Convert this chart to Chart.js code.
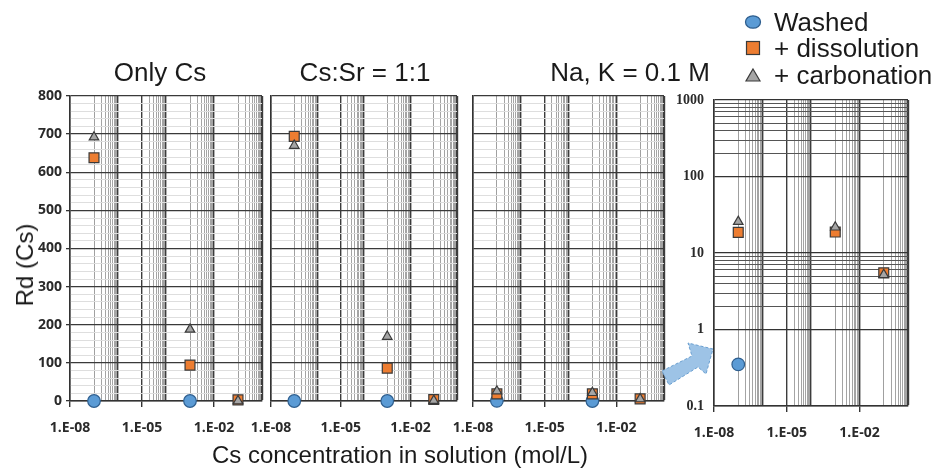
<!DOCTYPE html>
<html><head><meta charset="utf-8">
<script src="https://cdn.jsdelivr.net/npm/chart.js@4.4.0/dist/chart.umd.min.js"></script>
<style>
html,body{margin:0;padding:0;background:#fff;width:935px;height:472px;overflow:hidden;font-family:'Liberation Sans',Arial,sans-serif;color:#1a1a1a}
.box{position:absolute;top:0;height:445px}
.t{position:absolute;transform:translate(-50%,-50%);white-space:nowrap;line-height:1}
.leg{position:absolute;left:744px;display:flex;align-items:center;font-size:26px;line-height:1;transform:translateY(-50%)}
.leg svg{margin-right:12px}
</style></head><body>
<div class="box" style="left:0;width:277px"><canvas id="c1" width="277" height="445"></canvas></div>
<div class="box" style="left:226px;width:246px"><canvas id="c2" width="246" height="445"></canvas></div>
<div class="box" style="left:428px;width:251px"><canvas id="c3" width="251" height="445"></canvas></div>
<div class="box" style="left:660px;width:275px"><canvas id="c4" width="275" height="445"></canvas></div>
<div id="titles"></div>
<div id="legend"></div>
<div class="t" style="left:25px;top:265px;font-size:24px;transform:translate(-50%,-50%) rotate(-90deg)">Rd (Cs)</div>
<div class="t" style="left:400px;top:455px;font-size:24px">Cs concentration in solution (mol/L)</div>
<svg style="position:absolute;left:0;top:0;pointer-events:none" width="935" height="472">
  <polygon points="662,371 692,356 688,343 713,349 706,374 698,367 669,385" fill="#9DC3E6" stroke="#6A9FD0" stroke-width="1" stroke-dasharray="3,2"/>
</svg>
<script>
// ---------------- data ----------------
const concentrations = [1e-7, 1e-3, 1e-1];          // Cs concentration in solution (mol/L)
const seriesNames = ['Washed', '+ dissolution', '+ carbonation'];
const panelTitles = ['Only Cs', 'Cs:Sr = 1:1', 'Na, K = 0.1 M'];

const onlyCsWashed      = [0, 0, null];
const onlyCsDissolution = [638, 94, 3];
const onlyCsCarbonation = [692, 188, 0];

const csSrWashed      = [0, 0, null];
const csSrDissolution = [694, 86, 4];
const csSrCarbonation = [670, 169, 1];

const naKWashed      = [0.35, 0, null];
const naKDissolution = [18.6, 18.8, 5.5];
const naKCarbonation = [25.7, 21.7, 5.2];

const xTickValues = [1e-8, 1e-5, 1e-2];
const xTickLabels = ['1.E-08', '1.E-05', '1.E-02'];
const yLinTickValues = [0, 100, 200, 300, 400, 500, 600, 700, 800];
const yLinTickLabels = ['0', '100', '200', '300', '400', '500', '600', '700', '800'];
const yLogTickValues = [0.1, 1, 10, 100, 1000];
const yLogTickLabels = ['0.1', '1', '10', '100', '1000'];

// ---------------- styles ----------------
const markerStyles = [
  {pointStyle: 'circle',   radius: 6.3, bg: '#5B9BD5', border: '#2F5F8F', order: 2},
  {pointStyle: 'rect',     radius: 7,   bg: '#ED7D31', border: '#3a3a3a', order: 1},
  {pointStyle: 'triangle', radius: 5.5, bg: '#A5A5A5', border: '#3a3a3a', order: 0}
];
const X_MINOR_DECADES = [-7, -5, -3, -1];
const X_LIGHT_DECADES = [-7, -3, -1];
const Y_LOG_MINOR_DECADES = [0, 2];
const TICK_FONT = {family: "'Open Sans', sans-serif", size: 14, weight: '700'};
const TICK_COLOR = '#2a2a2a';

Chart.defaults.font.family = "'Open Sans', sans-serif";

function logTicks(minExp, maxExp, minorDecades) {
  const t = [];
  for (let e = minExp; e <= maxExp; e++) {
    t.push({value: Math.pow(10, e)});
    if (e < maxExp && minorDecades.includes(e)) {
      for (let m = 2; m <= 9; m++) t.push({value: m * Math.pow(10, e)});
    }
  }
  return t;
}
function decade(v) { const l = Math.log10(v); const e = Math.round(l); return {major: Math.abs(l - e) < 1e-6, e}; }
function findIdx(vals, v) { return vals.findIndex(a => Math.abs(a - v) / a < 1e-6); }

function xScale(xAxisHeight, pad) {
  return {
    type: 'logarithmic', min: 1e-8, max: 1,
    afterBuildTicks: ax => { ax.ticks = logTicks(-8, 0, X_MINOR_DECADES); },
    afterFit: ax => { ax.height = xAxisHeight; },
    ticks: {autoSkip: false, maxRotation: 0, minRotation: 0, padding: pad, color: TICK_COLOR, font: TICK_FONT,
      callback: v => { const i = findIdx(xTickValues, v); return i >= 0 ? xTickLabels[i] : ''; }},
    grid: {
      color: ctx => { const d = decade(ctx.tick.value); if (!d.major) return '#a4a4a4'; return X_LIGHT_DECADES.includes(d.e) ? '#a0a0a0' : '#3c3c3c'; },
      lineWidth: ctx => { const d = decade(ctx.tick.value); if (!d.major) return 1; if (d.e === 0) return 2.2; return X_LIGHT_DECADES.includes(d.e) ? 1 : 1.4; },
      tickLength: 6,
      tickColor: ctx => findIdx(xTickValues, ctx.tick.value) >= 0 ? '#333' : 'rgba(0,0,0,0)'
    },
    border: {color: '#333', width: 1.5}
  };
}
function yLinScale(showLabels, width) {
  return {
    type: 'linear', min: 0, max: 800,
    afterBuildTicks: ax => { const t = []; for (let v = 0; v <= 800; v += 20) t.push({value: v}); ax.ticks = t; },
    afterFit: ax => { ax.width = width; },
    ticks: {display: showLabels, autoSkip: false, padding: 4, color: TICK_COLOR, font: TICK_FONT,
      callback: v => { const i = yLinTickValues.indexOf(v); return i >= 0 ? yLinTickLabels[i] : ''; }},
    grid: {
      color: ctx => ctx.tick.value % 100 === 0 ? '#3a3a3a' : '#dedede',
      lineWidth: ctx => ctx.tick.value % 100 === 0 ? 1.3 : 1,
      drawTicks: showLabels, tickLength: 4,
      tickColor: ctx => ctx.tick.value % 100 === 0 ? '#333' : 'rgba(0,0,0,0)'
    },
    border: {color: '#333', width: 1.5}
  };
}
function yLogScale(width) {
  return {
    type: 'logarithmic', min: 0.1, max: 1000,
    afterBuildTicks: ax => { ax.ticks = logTicks(-1, 3, Y_LOG_MINOR_DECADES); },
    afterFit: ax => { ax.width = width; },
    ticks: {autoSkip: false, padding: 10, color: TICK_COLOR, font: {family: "'Liberation Serif', serif", size: 14, weight: '600'},
      callback: v => { const i = findIdx(yLogTickValues, v); return i >= 0 ? yLogTickLabels[i] : ''; }},
    grid: {
      color: ctx => decade(ctx.tick.value).major ? '#333' : '#555',
      lineWidth: ctx => decade(ctx.tick.value).major ? 1.3 : 1,
      drawTicks: false
    },
    border: {color: '#333', width: 1.5}
  };
}
function datasets(series, positiveOnly) {
  return series.map((arr, s) => {
    const st = markerStyles[s];
    return {
      label: seriesNames[s],
      data: concentrations.map((x, i) => ({x, y: arr[i]})).filter(p => p.y !== null && (!positiveOnly || p.y > 0)),
      showLine: false, clip: false, order: st.order,
      pointStyle: st.pointStyle, pointRadius: st.radius, pointHoverRadius: st.radius,
      pointBackgroundColor: st.bg, pointBorderColor: st.border, pointBorderWidth: 1.2
    };
  });
}
function make(id, series, scales, padding, positiveOnly) {
  return new Chart(document.getElementById(id), {
    type: 'scatter',
    data: {datasets: datasets(series, positiveOnly)},
    options: {
      responsive: false, animation: false, devicePixelRatio: 1,
      layout: {padding},
      plugins: {legend: {display: false}, tooltip: {enabled: false}, title: {display: false}},
      scales
    }
  });
}

make('c1', [onlyCsWashed, onlyCsDissolution, onlyCsCarbonation],
  {x: xScale(44, 13), y: yLinScale(true, 70)}, {left: 0, top: 96, right: 15, bottom: 0}, false);
make('c2', [csSrWashed, csSrDissolution, csSrCarbonation],
  {x: xScale(44, 13), y: yLinScale(false, 0)}, {left: 45, top: 96, right: 15, bottom: 0}, false);
make('c3', [naKWashed, naKDissolution, naKCarbonation],
  {x: xScale(44, 13), y: yLinScale(false, 0)}, {left: 45, top: 96, right: 15, bottom: 0}, false);
make('c4', [naKWashed, naKDissolution, naKCarbonation],
  {x: xScale(39, 13), y: yLogScale(54)}, {left: 0, top: 100, right: 27, bottom: 0}, true);

// titles
const titlePos = [[160, 72], [365, 72], [630, 72]];
document.getElementById('titles').innerHTML = panelTitles.map((t, i) =>
  `<div class="t" style="left:${titlePos[i][0]}px;top:${titlePos[i][1]}px;font-size:26px">${t}</div>`).join('');

// legend
const legendY = [22, 48, 75];
const markerSvg = [
  '<svg width="18" height="16"><ellipse cx="9" cy="8" rx="7.5" ry="6.2" fill="#5B9BD5" stroke="#2F5F8F" stroke-width="1.3"/></svg>',
  '<svg width="18" height="16"><rect x="2.5" y="1.5" width="13" height="13" fill="#ED7D31" stroke="#3a3a3a" stroke-width="1.2"/></svg>',
  '<svg width="18" height="16"><polygon points="9,2 16,14 2,14" fill="#A5A5A5" stroke="#3a3a3a" stroke-width="1.2"/></svg>'
];
document.getElementById('legend').innerHTML = seriesNames.map((n, i) =>
  `<div class="leg" style="top:${legendY[i]}px">${markerSvg[i]}<span>${n}</span></div>`).join('');
</script>
</body></html>
